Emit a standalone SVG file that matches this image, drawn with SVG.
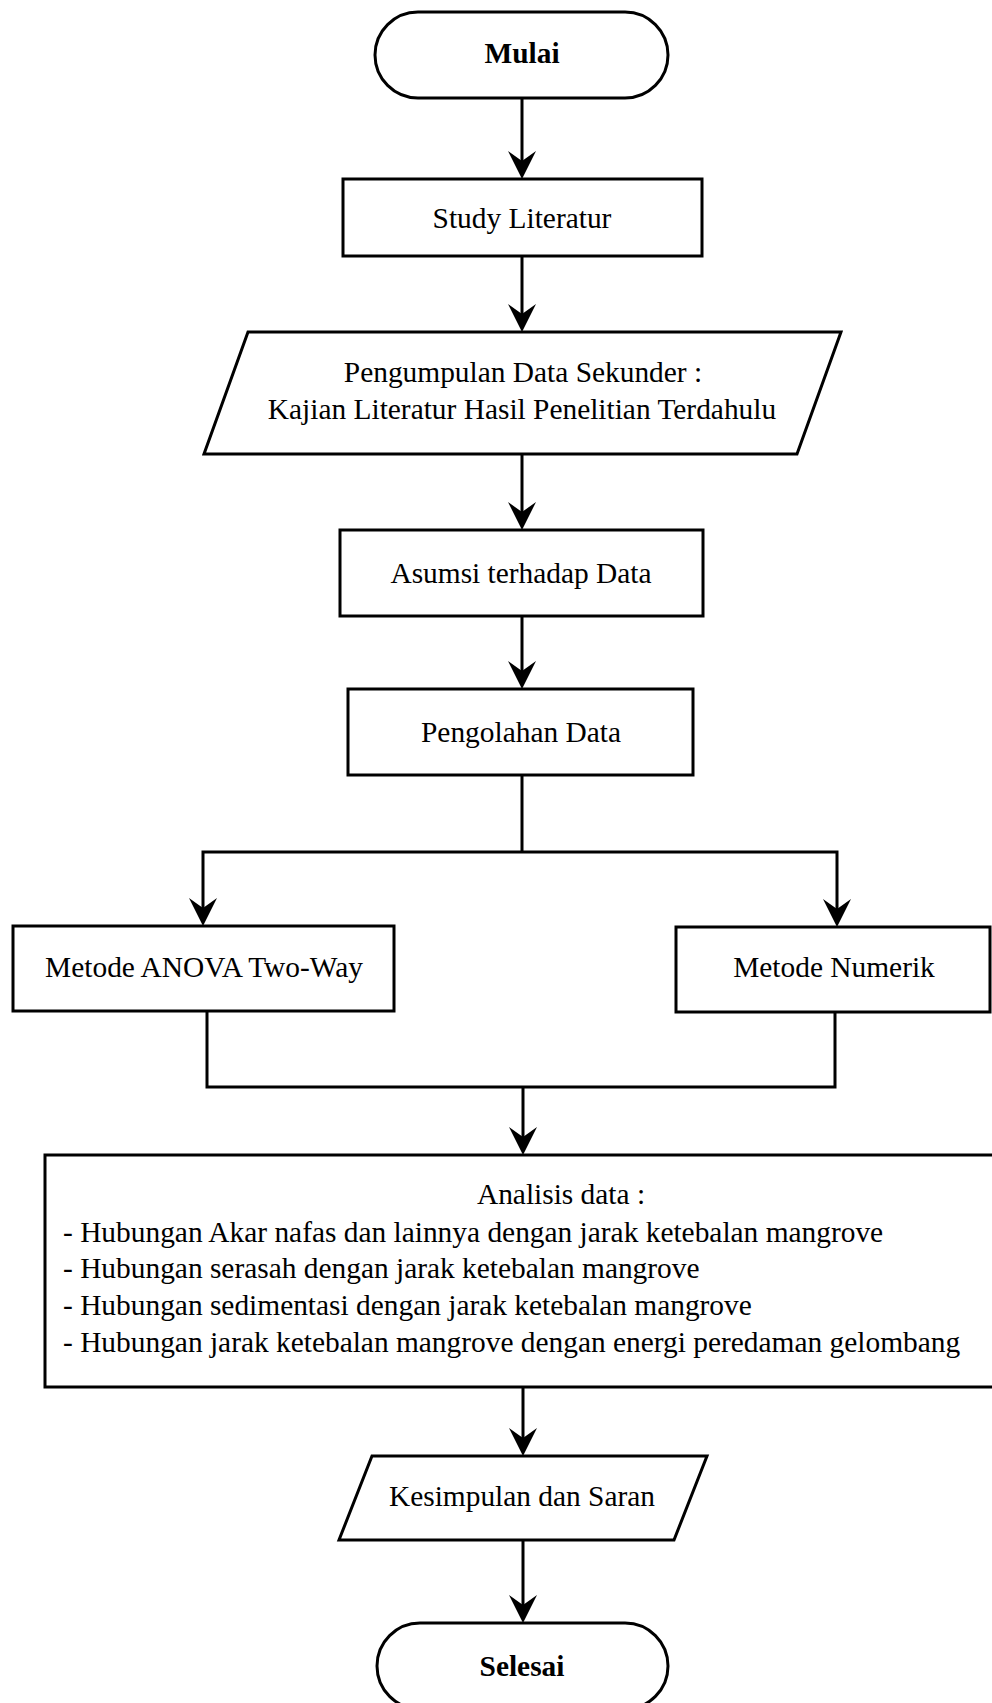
<svg xmlns="http://www.w3.org/2000/svg" xmlns:xlink="http://www.w3.org/1999/xlink" width="992" height="1703" viewBox="0 0 992 1703">
<style>
.shape{fill:#fff;stroke:#000;stroke-width:3}
.edge{fill:none;stroke:#000;stroke-width:3}
.t{font-family:"Liberation Serif","Times New Roman",serif;font-size:29.4px;fill:#000;text-anchor:middle}
.l{font-family:"Liberation Serif","Times New Roman",serif;font-size:29.4px;fill:#000}
.b{font-weight:bold}
</style>
<defs>
<path id="ah" d="M0,0 L-14,-28 L0,-18 L14,-28 Z" fill="#000"/>
</defs>
<rect width="992" height="1703" fill="#fff"/>
<g id="connectors">
<line class="edge" x1="522" y1="98" x2="522" y2="168"/>
<use xlink:href="#ah" x="522" y="179"/>
<line class="edge" x1="522" y1="256" x2="522" y2="322"/>
<use xlink:href="#ah" x="522" y="332"/>
<line class="edge" x1="522" y1="454" x2="522" y2="520"/>
<use xlink:href="#ah" x="522" y="530"/>
<line class="edge" x1="522" y1="616" x2="522" y2="679"/>
<use xlink:href="#ah" x="522" y="689"/>
<polyline class="edge" points="522,775 522,852"/>
<polyline class="edge" points="203,916 203,852 837,852 837,917"/>
<use xlink:href="#ah" x="203" y="926"/>
<use xlink:href="#ah" x="837" y="927"/>
<polyline class="edge" points="207,1011 207,1087 835,1087 835,1012"/>
<line class="edge" x1="523" y1="1087" x2="523" y2="1145"/>
<use xlink:href="#ah" x="523" y="1155"/>
<line class="edge" x1="523" y1="1387" x2="523" y2="1446"/>
<use xlink:href="#ah" x="523" y="1456"/>
<line class="edge" x1="523" y1="1540" x2="523" y2="1613"/>
<use xlink:href="#ah" x="523" y="1623"/>
</g>
<g id="mulai">
<rect class="shape" x="375" y="12" width="293" height="86" rx="43" ry="43"/>
<text class="t b" x="522" y="63">Mulai</text>
</g>
<g id="study">
<rect class="shape" x="343" y="179" width="359" height="77"/>
<text class="t" x="522" y="228">Study Literatur</text>
</g>
<g id="pengumpulan">
<polygon class="shape" points="248,332 841,332 797,454 204,454"/>
<text class="t" x="523" y="382">Pengumpulan Data Sekunder :</text>
<text class="t" x="522" y="419">Kajian Literatur Hasil Penelitian Terdahulu</text>
</g>
<g id="asumsi">
<rect class="shape" x="340" y="530" width="363" height="86"/>
<text class="t" x="521" y="583">Asumsi terhadap Data</text>
</g>
<g id="pengolahan">
<rect class="shape" x="348" y="689" width="345" height="86"/>
<text class="t" x="521" y="742">Pengolahan Data</text>
</g>
<g id="anova">
<rect class="shape" x="13" y="926" width="381" height="85"/>
<text class="t" x="204" y="977">Metode ANOVA Two-Way</text>
</g>
<g id="numerik">
<rect class="shape" x="676" y="927" width="314" height="85"/>
<text class="t" x="834" y="977">Metode Numerik</text>
</g>
<g id="analisis">
<rect class="shape" x="45" y="1155" width="1040" height="232"/>
<text class="t" x="561" y="1204">Analisis data :</text>
<text class="l" x="63" y="1242">- Hubungan Akar nafas dan lainnya dengan jarak ketebalan mangrove</text>
<text class="l" x="63" y="1278">- Hubungan serasah dengan jarak ketebalan mangrove</text>
<text class="l" x="63" y="1315">- Hubungan sedimentasi dengan jarak ketebalan mangrove</text>
<text class="l" x="63" y="1352">- Hubungan jarak ketebalan mangrove dengan energi peredaman gelombang</text>
</g>
<g id="kesimpulan">
<polygon class="shape" points="372,1456 707,1456 674,1540 339,1540"/>
<text class="t" x="522" y="1506">Kesimpulan dan Saran</text>
</g>
<g id="selesai">
<rect class="shape" x="377" y="1623" width="291" height="86" rx="43" ry="43"/>
<text class="t b" x="522" y="1676">Selesai</text>
</g>
</svg>
